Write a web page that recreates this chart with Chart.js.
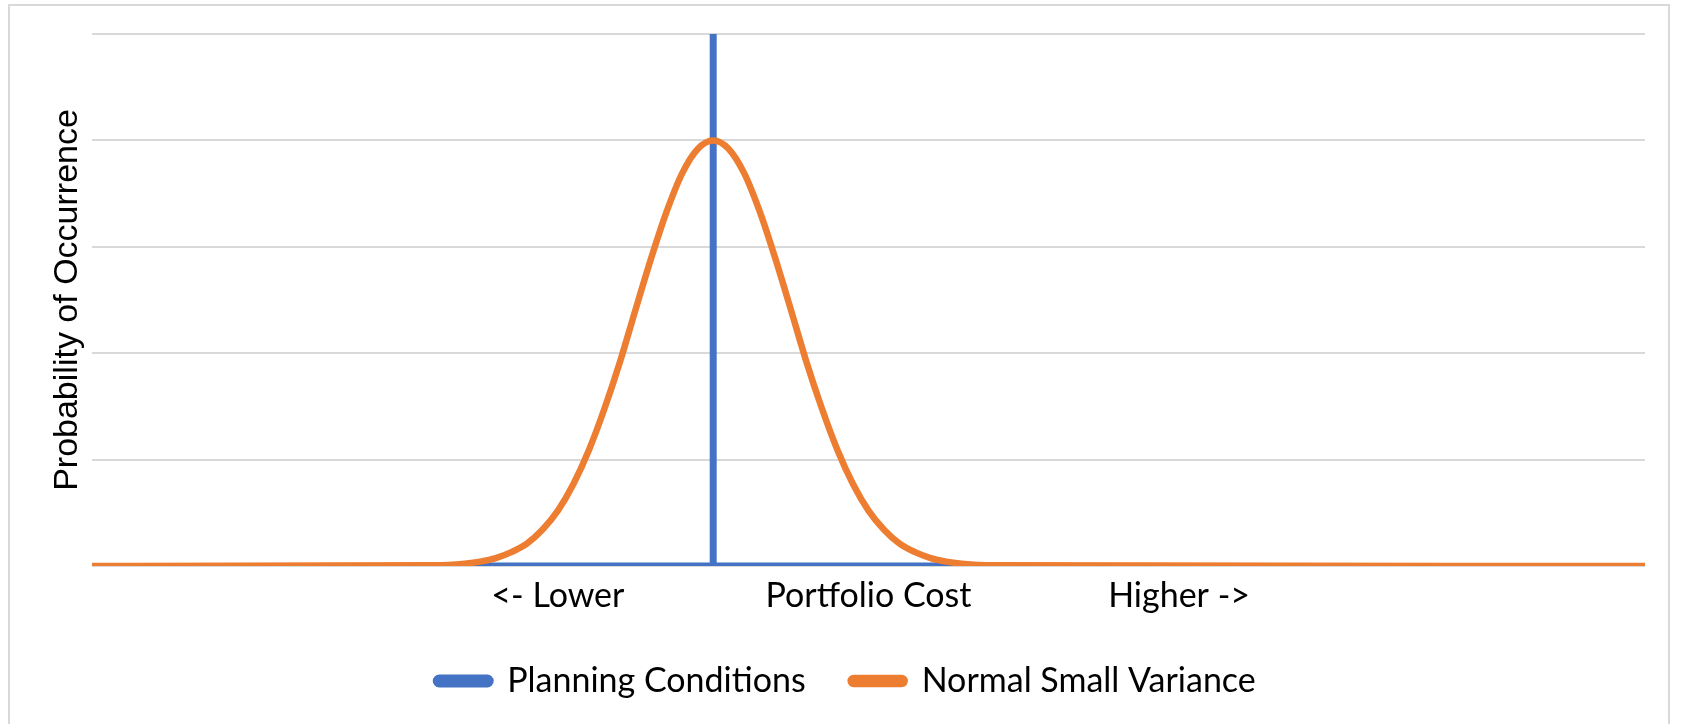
<!doctype html>
<html>
<head>
	<title>Portfolio Cost Distribution</title>
	<script src="https://cdn.jsdelivr.net/npm/chart.js@4/dist/chart.umd.min.js"></script>
	<style>
	html, body {
		margin: 0;
		padding: 0;
		background: #fff;
		overflow: hidden;
	}
	.frame {
		position: absolute;
		left: 8px;
		top: 4px;
		width: 1662px;
		height: 760px;
		border: 2px solid #d9d9d9;
		box-sizing: border-box;
	}
	.chart-container {
		position: absolute;
		left: 0;
		top: 0;
		width: 1681px;
		height: 724px;
	}
	</style>
</head>

<body>
	<div class="frame"></div>
	<div class="chart-container">
		<canvas id="chart"></canvas>
	</div>
	<script>
		// x axis categories (cost scale, arbitrary units)
		var xTickValues = [75, 125, 175];
		var xTickLabels = ['<- Lower', 'Portfolio Cost', 'Higher ->'];

		// Planning Conditions: flat line with a single spike at the plan value
		var planX = [60, 100, 100, 100, 140];
		var planY = [0, 0, 5, 0, 0];

		// Normal Small Variance curve
		var normalX = [0, 55, 60, 62.5, 65, 67.5, 70, 72.5, 75, 77.5, 80, 82.5, 85, 87.5, 90, 92.5, 95, 97.5, 100,
			102.5, 105, 107.5, 110, 112.5, 115, 117.5, 120, 122.5, 125, 127.5, 130, 132.5, 135, 137.5, 140, 145, 250];
		var normalY = [0, 0.006, 0.022, 0.041, 0.074, 0.13, 0.21, 0.34, 0.52, 0.77, 1.09, 1.48, 1.92, 2.41, 2.89, 3.33, 3.69, 3.92, 4,
			3.92, 3.69, 3.33, 2.89, 2.41, 1.92, 1.48, 1.09, 0.77, 0.52, 0.34, 0.21, 0.13, 0.074, 0.041, 0.022, 0.006, 0];

		function toPoints(xs, ys) {
			return xs.map(function(x, i) {
				return {x: x, y: ys[i]};
			});
		}

		window.onload = function() {
			var ctx = document.getElementById('chart').getContext('2d');
			new Chart(ctx, {
				type: 'scatter',
				data: {
					datasets: [{
						label: 'Planning Conditions',
						data: toPoints(planX, planY),
						showLine: true,
						borderColor: '#4472c4',
						backgroundColor: '#4472c4',
						borderWidth: 7,
						pointRadius: 0,
						order: 2
					}, {
						label: 'Normal Small Variance',
						data: toPoints(normalX, normalY),
						showLine: true,
						cubicInterpolationMode: 'monotone',
						borderColor: '#ed7d31',
						backgroundColor: '#ed7d31',
						borderWidth: 6.5,
						borderCapStyle: 'round',
						pointRadius: 0,
						order: 1
					}]
				},
				options: {
					responsive: true,
					maintainAspectRatio: false,
					animation: false,
					layout: {
						padding: {left: 47, right: 36, top: 34, bottom: 16}
					},
					plugins: {
						tooltip: {enabled: false},
						legend: {
							position: 'bottom',
							reverse: true,
							labels: {
								color: '#000',
								font: {family: 'Lato', size: 34},
								boxWidth: 54,
								boxHeight: 6,
								useBorderRadius: true,
								borderRadius: 3,
								padding: 45
							}
						}
					},
					scales: {
						x: {
							type: 'linear',
							min: 0,
							max: 250,
							afterFit: function(scale) {
								scale.height = 53;
							},
							grid: {display: false},
							border: {display: false},
							afterBuildTicks: function(scale) {
								scale.ticks = xTickValues.map(function(v) {
									return {value: v};
								});
							},
							ticks: {
								color: '#000',
								font: {family: 'Lato', size: 34},
								padding: 2,
								maxRotation: 0,
								autoSkip: false,
								callback: function(value) {
									return xTickLabels[xTickValues.indexOf(value)];
								}
							}
						},
						y: {
							min: 0,
							max: 5,
							afterFit: function(scale) {
								scale.width = 45;
							},
							grid: {color: '#d9d9d9', lineWidth: 2, drawTicks: false},
							border: {display: false},
							ticks: {display: false, stepSize: 1},
							title: {
								display: true,
								text: 'Probability of Occurrence',
								color: '#000',
								font: {family: 'Liberation Sans', size: 34},
								padding: {top: 0, bottom: 4}
							}
						}
					}
				}
			});
		};
	</script>
</body>

</html>
